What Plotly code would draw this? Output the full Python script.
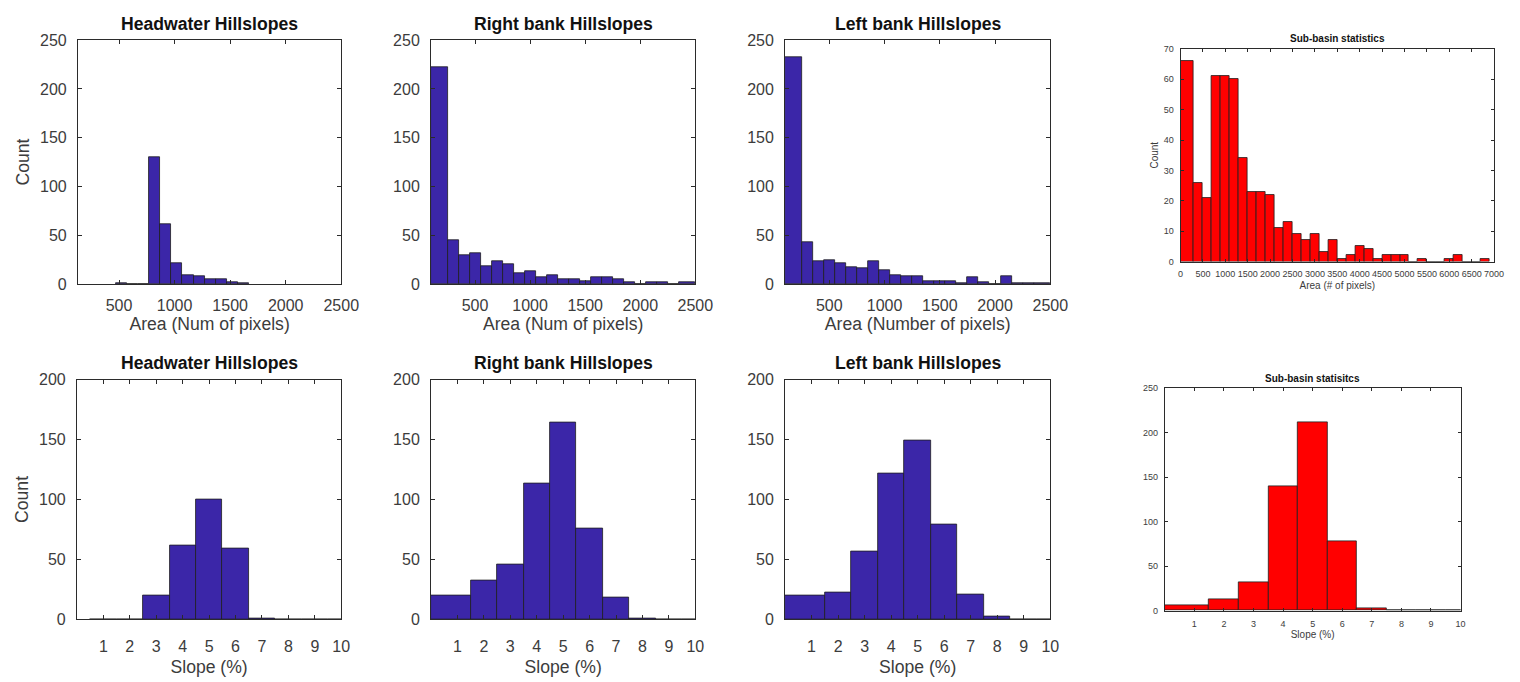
import numpy as np
import plotly.graph_objects as go

# ---------------- Data ----------------
hw_area_edges = [470, 570, 670, 770, 870, 970, 1070, 1170, 1270, 1370, 1470, 1570, 1670]
hw_area_counts = [1, 0, 0, 130, 61, 21, 9, 8, 5, 5, 2, 1]

rb_area_edges = [100] + list(range(250, 2351, 100)) + [2500]
rb_area_counts = [222, 45, 30, 32, 18, 23, 20, 11, 13, 7, 9, 5, 5, 3, 7, 7, 5, 2, 0, 2, 2, 0, 2]

lb_area_edges = [100] + list(range(250, 2351, 100)) + [2500]
lb_area_counts = [233, 43, 23, 24, 21, 17, 16, 23, 14, 9, 8, 8, 3, 3, 3, 1, 7, 2, 0, 8, 1, 1, 1]

sb_area_edges = [0] + list(range(300, 6901, 200))
sb_area_counts = [66, 26, 21, 61, 61, 60, 34, 23, 23, 22, 11, 13, 9, 7, 9, 3, 7, 1, 2, 5,
                  4, 1, 2, 2, 2, 0, 1, 0, 0, 1, 2, 0, 0, 1]

hw_slope_edges = [0.5, 1.5, 2.5, 3.5, 4.5, 5.5, 6.5, 7.5, 8.5, 9.5, 10.5]
hw_slope_counts = [0, 0, 20, 62, 100, 59, 1, 0, 0, 0]

rb_slope_edges = [0, 1.5, 2.5, 3.5, 4.5, 5.5, 6.5, 7.5, 8.5, 9.5, 10.5]
rb_slope_counts = [20, 32, 46, 113, 164, 76, 18, 1, 0, 0]

lb_slope_edges = [0, 1.5, 2.5, 3.5, 4.5, 5.5, 6.5, 7.5, 8.5, 9.5, 10.5]
lb_slope_counts = [20, 22, 57, 122, 149, 79, 21, 2, 0, 0]

sb_slope_edges = [0, 1.5, 2.5, 3.5, 4.5, 5.5, 6.5, 7.5, 8.5, 9.5, 10.5]
sb_slope_counts = [6, 13, 32, 140, 212, 78, 3, 0, 0, 0]

slope_ticks = [1, 2, 3, 4, 5, 6, 7, 8, 9, 10]

# ---------------- Styling ----------------
W, H = 1520, 682
BLUE = "#3b26a8"
RED = "#ff0000"
FONT = "Liberation Sans, Arial, Helvetica, sans-serif"
AXC = "#2b2b2b"
TXT = "#3c3c3c"

fig = go.Figure()
annotations = []

def px_dom_x(a, b):
    return [a / W, b / W]

def px_dom_y(top, bottom):
    return [1 - bottom / H, 1 - top / H]

panels = [
    dict(edges=hw_area_edges, counts=hw_area_counts, color=BLUE, title="Headwater Hillslopes",
         xt="Area (Num of pixels)", yt="Count", xr=[130, 2500], yr=[0, 250], xd=500, yd=50,
         box=(76, 343, 33, 283), big=True, xs=7, xts=0, ts=4),
    dict(edges=rb_area_edges, counts=rb_area_counts, color=BLUE, title="Right bank Hillslopes",
         xt="Area (Num of pixels)", yt=None, xr=[100, 2500], yr=[0, 250], xd=500, yd=50,
         box=(434, 702, 33, 283), big=True, xs=7, xts=0, ts=4),
    dict(edges=lb_area_edges, counts=lb_area_counts, color=BLUE, title="Left bank Hillslopes",
         xt="Area (Number of pixels)", yt=None, xr=[100, 2500], yr=[0, 250], xd=500, yd=50,
         box=(793, 1062, 33, 283), big=True, xs=7, xts=0, ts=4),
    dict(edges=sb_area_edges, counts=sb_area_counts, color=RED, title="Sub-basin statistics",
         xt="Area (# of pixels)", yt="Count", xr=[0, 7000], yr=[0, 70], xd=500, yd=10,
         box=(1194, 1512, 42, 260), big=False, xs=4, xts=3, ts=3),
    dict(edges=hw_slope_edges, counts=hw_slope_counts, color=BLUE, title="Headwater Hillslopes",
         xt="Slope (%)", yt="Count", xr=[0, 10], yr=[0, 200], xd=None, yd=50,
         box=(75, 343, 381, 627), big=True, xs=12, xts=7, ts=5),
    dict(edges=rb_slope_edges, counts=rb_slope_counts, color=BLUE, title="Right bank Hillslopes",
         xt="Slope (%)", yt=None, xr=[0, 10], yr=[0, 200], xd=None, yd=50,
         box=(434, 702, 381, 627), big=True, xs=12, xts=7, ts=5),
    dict(edges=lb_slope_edges, counts=lb_slope_counts, color=BLUE, title="Left bank Hillslopes",
         xt="Slope (%)", yt=None, xr=[0, 10], yr=[0, 200], xd=None, yd=50,
         box=(793, 1062, 381, 627), big=True, xs=12, xts=7, ts=5),
    dict(edges=sb_slope_edges, counts=sb_slope_counts, color=RED, title="Sub-basin statisitcs",
         xt="Slope (%)", yt=None, xr=[0, 10], yr=[0, 250], xd=None, yd=50,
         box=(1178, 1478, 390, 618), big=False, xs=5, xts=2, ts=2),
]

layout_axes = {}
for i, p in enumerate(panels, start=1):
    e = np.array(p["edges"], dtype=float)
    centers = (e[:-1] + e[1:]) / 2
    widths = np.diff(e)
    xa = "x" if i == 1 else f"x{i}"
    ya = "y" if i == 1 else f"y{i}"
    fig.add_trace(go.Bar(
        x=centers, y=p["counts"], width=widths,
        marker=dict(color=p["color"], line=dict(color="#1e1e1e", width=0.8)),
        xaxis=xa, yaxis=ya, showlegend=False,
    ))
    x0, x1, y0, y1 = p["box"]
    big = p["big"]
    tick_size = 16 if big else 9
    lab_size = 17.6 if big else 10
    title_size = 17.6 if big else 10
    xaxis = dict(
        domain=px_dom_x(x0, x1), anchor=ya, range=p["xr"],
        showline=True, linecolor=AXC, linewidth=1, mirror="allticks",
        ticks="inside", ticklen=4 if big else 3, tickcolor=AXC,
        showgrid=False, zeroline=False, tickangle=0,
        ticklabelstandoff=p["xs"],
        tickfont=dict(family=FONT, size=tick_size, color=TXT),
        title=dict(text=p["xt"], font=dict(family=FONT, size=lab_size, color=TXT),
                   standoff=p["xts"]),
    )
    if p["xd"] is None:
        xaxis.update(tickmode="array", tickvals=slope_ticks)
    else:
        xaxis.update(tick0=0, dtick=p["xd"])
    yaxis = dict(
        domain=px_dom_y(y0, y1), anchor=xa, range=p["yr"],
        showline=True, linecolor=AXC, linewidth=1, mirror="allticks",
        ticks="inside", ticklen=4 if big else 3, tickcolor=AXC,
        showgrid=False, zeroline=False, tick0=0, dtick=p["yd"],
        tickfont=dict(family=FONT, size=tick_size, color=TXT),
        ticklabelstandoff=7 if big else 4,
    )
    if p["yt"]:
        yaxis["title"] = dict(text=p["yt"], font=dict(family=FONT, size=lab_size, color=TXT),
                              standoff=5 if big else 3)
    layout_axes["xaxis" if i == 1 else f"xaxis{i}"] = xaxis
    layout_axes["yaxis" if i == 1 else f"yaxis{i}"] = yaxis
    annotations.append(dict(
        text=f"<b>{p['title']}</b>", xref="paper", yref="paper",
        x=(x0 + x1) / 2 / W, y=1 - y0 / H,
        xanchor="center", yanchor="bottom",
        yshift=p["ts"], showarrow=False,
        font=dict(family=FONT, size=title_size, color="#111111"),
    ))

fig.update_layout(
    width=W, height=H, margin=dict(l=0, r=0, t=0, b=0),
    paper_bgcolor="white", plot_bgcolor="white",
    bargap=0, annotations=annotations, **layout_axes,
)

fig.write_html(
    "out.html",
    config={"displayModeBar": False},
    post_script="document.body.style.margin='0px';document.body.style.overflow='hidden';"
                "document.documentElement.style.overflow='hidden';",
)
